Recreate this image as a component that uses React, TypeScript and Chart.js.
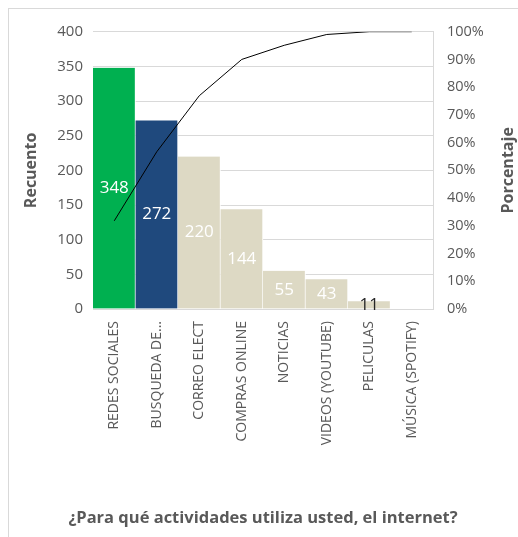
import React, { useEffect, useRef } from "react";
import { Chart, registerables } from "chart.js";

Chart.register(...registerables);

const categories = [
  "REDES SOCIALES",
  "BUSQUEDA DE...",
  "CORREO ELECT",
  "COMPRAS ONLINE",
  "NOTICIAS",
  "VIDEOS (YOUTUBE)",
  "PELICULAS",
  "MÚSICA (SPOTIFY)",
];
const counts = [348, 272, 220, 144, 55, 43, 11, 0];
const cumulativePct = [0.318, 0.567, 0.769, 0.9, 0.951, 0.99, 1.0, 1.0];
const leftTicks = [0, 50, 100, 150, 200, 250, 300, 350, 400];
const rightTicks = [0, 0.1, 0.2, 0.3, 0.4, 0.5, 0.6, 0.7, 0.8, 0.9, 1.0];

const barColors = ["#00B050", "#1F497D", "#DDD9C4", "#DDD9C4", "#DDD9C4", "#DDD9C4", "#DDD9C4", "#DDD9C4"];
const labelColors = ["#FFFFFF", "#FFFFFF", "#FFFFFF", "#FFFFFF", "#FFFFFF", "#FFFFFF", "#262626", "#262626"];

const FONT = "'Open Sans', 'Noto Sans', sans-serif";
const GREY = "#595959";

const overlayPlugin = {
  id: "overlay",
  afterDatasetsDraw(chart: any) {
    const ctx = chart.ctx;
    const meta = chart.getDatasetMeta(0);
    ctx.save();
    ctx.font = `17px ${FONT}`;
    ctx.textAlign = "center";
    ctx.textBaseline = "middle";
    meta.data.forEach((bar: any, i: number) => {
      if (!counts[i]) return;
      const y = (bar.y + bar.base) / 2;
      ctx.fillStyle = labelColors[i];
      ctx.fillText(String(counts[i]), bar.x, y);
    });
    ctx.restore();
  },
  afterDraw(chart: any) {
    const ctx = chart.ctx;
    const area = chart.chartArea;
    const cy = (area.top + area.bottom) / 2;
    ctx.save();
    ctx.fillStyle = GREY;
    ctx.font = `bold 16px ${FONT}`;
    ctx.textAlign = "center";
    ctx.textBaseline = "middle";
    ctx.translate(22, cy);
    ctx.rotate(-Math.PI / 2);
    ctx.fillText("Recuento", 0, 0);
    ctx.restore();

    ctx.save();
    ctx.fillStyle = GREY;
    ctx.font = `bold 16px ${FONT}`;
    ctx.textAlign = "center";
    ctx.textBaseline = "middle";
    ctx.translate(499, cy);
    ctx.rotate(-Math.PI / 2);
    ctx.fillText("Porcentaje", 0, 0);
    ctx.restore();

    ctx.save();
    ctx.fillStyle = GREY;
    ctx.font = `bold 16.5px ${FONT}`;
    ctx.textAlign = "center";
    ctx.textBaseline = "middle";
    ctx.fillText("¿Para qué actividades utiliza usted, el internet?", 254, 509);
    ctx.restore();
  },
};

export default function App() {
  const ref = useRef<HTMLCanvasElement>(null);
  useEffect(() => {
    document.documentElement.style.overflow = "hidden";
    document.body.style.overflow = "hidden";
    const chart = new Chart(ref.current as HTMLCanvasElement, {
      type: "bar",
      data: {
        labels: categories,
        datasets: [
          {
            type: "bar",
            data: counts,
            backgroundColor: barColors,
            borderColor: "#FFFFFF",
            borderWidth: { left: 0, right: 1, top: 0, bottom: 0 } as any,
            borderSkipped: false,
            barPercentage: 1,
            categoryPercentage: 1,
            yAxisID: "y",
            order: 2,
          },
          {
            type: "line",
            data: cumulativePct,
            borderColor: "#000000",
            borderWidth: 1,
            pointRadius: 0,
            tension: 0,
            yAxisID: "y1",
            order: 1,
          } as any,
        ],
      },
      options: {
        animation: false,
        responsive: false,
        layout: { padding: { top: 20, left: 0, right: 0, bottom: 0 } },
        plugins: { legend: { display: false }, tooltip: { enabled: false }, title: { display: false } },
        scales: {
          x: {
            grid: { display: false, drawTicks: false },
            border: { display: true, color: "#D9D9D9" },
            ticks: {
              minRotation: 90,
              maxRotation: 90,
              autoSkip: false,
              padding: 12,
              color: GREY,
              font: { family: FONT, size: 14 },
            },
            afterFit(scale: any) {
              scale.height = 228;
            },
          },
          y: {
            position: "left",
            min: 0,
            max: 400,
            afterBuildTicks(scale: any) {
              scale.ticks = leftTicks.map((v) => ({ value: v }));
            },
            grid: { color: "#D9D9D9", drawTicks: false },
            border: { display: false },
            ticks: { padding: 10, color: GREY, font: { family: FONT, size: 15 } },
            afterFit(scale: any) {
              scale.width = 84;
            },
          },
          y1: {
            position: "right",
            min: 0,
            max: 1,
            afterBuildTicks(scale: any) {
              scale.ticks = rightTicks.map((v) => ({ value: v }));
            },
            grid: { display: false, drawTicks: false },
            border: { display: true, color: "#D9D9D9" },
            ticks: {
              padding: 14,
              color: GREY,
              font: { family: FONT, size: 14.5 },
              callback: (v: any) => `${Math.round(Number(v) * 100)}%`,
            },
            afterFit(scale: any) {
              scale.width = 86;
            },
          },
        },
      },
      plugins: [overlayPlugin],
    });
    return () => chart.destroy();
  }, []);
  return (
    <div
      style={{
        position: "absolute",
        left: 8,
        top: 8,
        width: 520,
        height: 540,
        border: "1px solid #D9D9D9",
        boxSizing: "border-box",
        background: "#fff",
      }}
    >
      <canvas ref={ref} width={510} height={528} style={{ display: "block" }} />
    </div>
  );
}
